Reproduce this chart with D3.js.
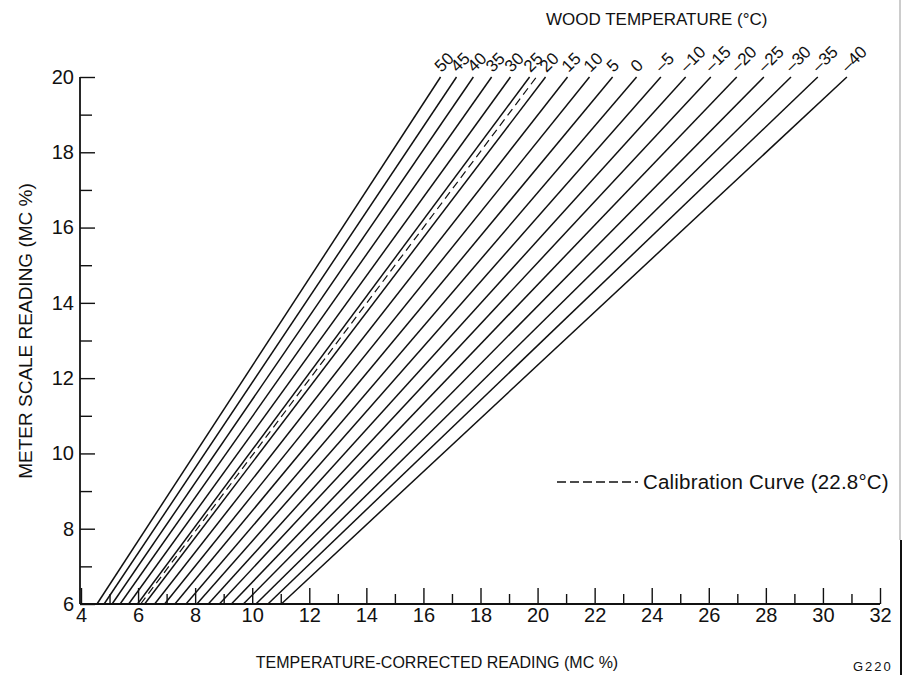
<!DOCTYPE html>
<html>
<head>
<meta charset="utf-8">
<script src="https://d3js.org/d3.v7.min.js"></script>
<style>
  body { margin: 0; background: #fff; }
  text { font-family: "Liberation Sans", Arial, sans-serif; fill: #111; }
</style>
</head>
<body>
<div id="chart"></div>
<script>
var svgWidth = 903;
var svgHeight = 675;

// wood temperature of each line (deg C) and where it meets meter reading 6 and 20
var temps = [50, 45, 40, 35, 30, 25, 20, 15, 10, 5, 0, -5, -10, -15, -20, -25, -30, -35, -40];
var correctedAt6 = [4.56, 4.81, 5.09, 5.37, 5.67, 5.98, 6.23, 6.58, 6.93, 7.29, 7.68, 8.06, 8.46, 8.85, 9.27, 9.69, 10.13, 10.55, 11.02];
var correctedAt20 = [16.60, 17.16, 17.75, 18.39, 19.05, 19.72, 20.28, 21.05, 21.82, 22.63, 23.47, 24.32, 25.19, 26.07, 26.98, 27.93, 28.88, 29.82, 30.84];

// calibration curve at 22.8 deg C
var calTemp = 22.8;
var calAt6 = 6.09;
var calAt20 = 19.96;

var meterRange = [6, 20];
var xMajorTicks = [4, 6, 8, 10, 12, 14, 16, 18, 20, 22, 24, 26, 28, 30, 32];
var xMinorTicks = [5, 7, 9, 11, 13, 15, 17, 19, 21, 23, 25, 27, 29, 31];
var yMajorTicks = [6, 8, 10, 12, 14, 16, 18, 20];
var yMinorTicks = [7, 9, 11, 13, 15, 17, 19];

var svg = d3.select("#chart")
  .append("svg")
  .attr("width", svgWidth)
  .attr("height", svgHeight);

var x = d3.scaleLinear().domain([4, 32]).range([81, 880]);
var y = d3.scaleLinear().domain(meterRange).range([604, 77]);

// y axis, ticks pointing into the plot
svg.append("g")
  .attr("class", "y-axis")
  .attr("transform", "translate(80,0)")
  .call(d3.axisLeft(y).tickValues(yMajorTicks).tickSize(-15).tickPadding(6).tickFormat(d3.format("d")))
  .call(g => g.select(".domain").attr("d", `M0,${y(20)}H-0V${y(6)}`));

svg.append("g")
  .attr("transform", "translate(80,0)")
  .call(d3.axisLeft(y).tickValues(yMinorTicks).tickSize(-12).tickFormat(""))
  .call(g => g.select(".domain").remove());

// x axis, ticks pointing up
svg.append("g")
  .attr("class", "x-axis")
  .attr("transform", "translate(0,604)")
  .call(d3.axisBottom(x).tickValues(xMajorTicks).tickSize(-16).tickPadding(4).tickFormat(d3.format("d")))
  .call(g => g.select(".domain").attr("d", `M80,0H${x(32)}`));

svg.append("g")
  .attr("transform", "translate(0,604)")
  .call(d3.axisBottom(x).tickValues(xMinorTicks).tickSize(-10).tickFormat(""))
  .call(g => g.select(".domain").remove());

svg.selectAll(".tick line").attr("stroke", "#111").attr("stroke-width", 1.4);
svg.selectAll(".domain").attr("stroke", "#111").attr("stroke-width", 1.8);
svg.selectAll(".tick text")
  .attr("font-size", "20px")
  .attr("font-family", "Liberation Sans, Arial, sans-serif")
  .attr("fill", "#111");

// temperature lines
var lineData = temps.map(function(t, i) {
  return { temp: t, c6: correctedAt6[i], c20: correctedAt20[i] };
});

svg.selectAll(".temp-line")
  .data(lineData)
  .enter()
  .append("line")
  .attr("class", "temp-line")
  .attr("x1", d => x(d.c6))
  .attr("y1", y(meterRange[0]))
  .attr("x2", d => x(d.c20))
  .attr("y2", y(meterRange[1]))
  .attr("stroke", "#111")
  .attr("stroke-width", 1.5);

svg.append("line")
  .attr("x1", x(calAt6))
  .attr("y1", y(meterRange[0]))
  .attr("x2", x(calAt20))
  .attr("y2", y(meterRange[1]))
  .attr("stroke", "#111")
  .attr("stroke-width", 1.2)
  .attr("stroke-dasharray", "8,5");

// temperature labels at the top end of each line
svg.selectAll(".temp-label")
  .data(lineData)
  .enter()
  .append("text")
  .attr("class", "temp-label")
  .attr("transform", d => `translate(${x(d.c20) + 1},${y(meterRange[1]) - 4}) rotate(-45)`)
  .attr("font-size", "17px")
  .text(d => d.temp < 0 ? "\u2013" + Math.abs(d.temp) : d.temp);

svg.append("text")
  .attr("x", 546)
  .attr("y", 25)
  .attr("font-size", "17px")
  .text("WOOD TEMPERATURE (\u00b0C)");

// legend for the calibration curve
svg.append("line")
  .attr("x1", 557)
  .attr("x2", 638)
  .attr("y1", 482)
  .attr("y2", 482)
  .attr("stroke", "#111")
  .attr("stroke-width", 1.3)
  .attr("stroke-dasharray", "9,4");

svg.append("text")
  .attr("x", 643)
  .attr("y", 489)
  .attr("font-size", "20.5px")
  .attr("letter-spacing", "0.2px")
  .text(`Calibration Curve (${calTemp}\u00b0C)`);

// axis titles
svg.append("text")
  .attr("transform", "translate(32,331) rotate(-90)")
  .attr("text-anchor", "middle")
  .attr("font-size", "19px")
  .text("METER SCALE READING (MC %)");

svg.append("text")
  .attr("x", 437)
  .attr("y", 668)
  .attr("text-anchor", "middle")
  .attr("font-size", "16px")
  .text("TEMPERATURE-CORRECTED READING (MC %)");

svg.append("text")
  .attr("x", 853)
  .attr("y", 671)
  .attr("font-size", "13px")
  .attr("letter-spacing", "2px")
  .attr("fill", "#333")
  .text("G220");

// scan border on the right
svg.append("line")
  .attr("x1", 900).attr("x2", 900)
  .attr("y1", 0).attr("y2", 540)
  .attr("stroke", "#999")
  .attr("stroke-width", 1);

svg.append("line")
  .attr("x1", 901).attr("x2", 901)
  .attr("y1", 540).attr("y2", 675)
  .attr("stroke", "#111")
  .attr("stroke-width", 2);
</script>
</body>
</html>
